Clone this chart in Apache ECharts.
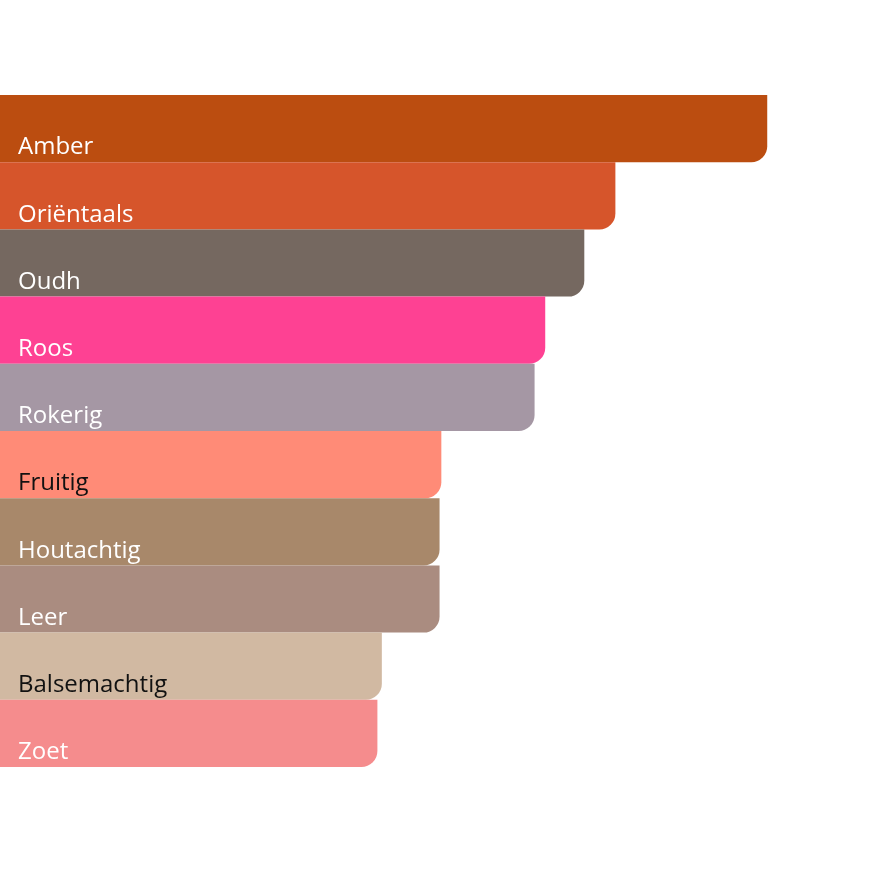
<!DOCTYPE html>
<html>
<head>
<meta charset="utf-8">
<script src="https://cdn.jsdelivr.net/npm/echarts@6/dist/echarts.min.js"></script>
<style>html,body{margin:0;padding:0;background:#fff}#c{width:888px;height:888px}</style>
</head>
<body>
<div id="c"></div>
<script>
const categories = ["Amber","Oriëntaals","Oudh","Roos","Rokerig","Fruitig","Houtachtig","Leer","Balsemachtig","Zoet"];
const values = [86.4, 69.3, 65.8, 61.4, 60.2, 49.7, 49.5, 49.5, 43.0, 42.5];
const colors = ["#BB4D10","#D6552B","#756860","#FE4193","#A597A4","#FF8B77","#A8886A","#AA8C80","#D1B9A2","#F58C8D"];
const labelColors = ["#fff","#fff","#fff","#fff","#fff","#111","#fff","#fff","#111","#fff"];

const chart = echarts.init(document.getElementById('c'));
chart.setOption({
  animation: false,
  grid: {left: 0, right: 0, top: 95, bottom: 121, containLabel: false},
  xAxis: {type: 'value', min: 0, max: 100, show: false},
  yAxis: {type: 'category', data: categories, inverse: true, show: false},
  series: [{
    type: 'bar',
    barWidth: '100%',
    barCategoryGap: 0,
    data: values.map((v, i) => ({
      value: v,
      itemStyle: {color: colors[i], borderRadius: [0, 0, 16, 0]},
      label: {color: labelColors[i]}
    })),
    label: {
      show: true,
      position: 'insideLeft',
      distance: 0,
      offset: [18, 19],
      formatter: p => p.name,
      fontFamily: 'Open Sans',
      fontSize: 24
    }
  }]
});
</script>
</body>
</html>
